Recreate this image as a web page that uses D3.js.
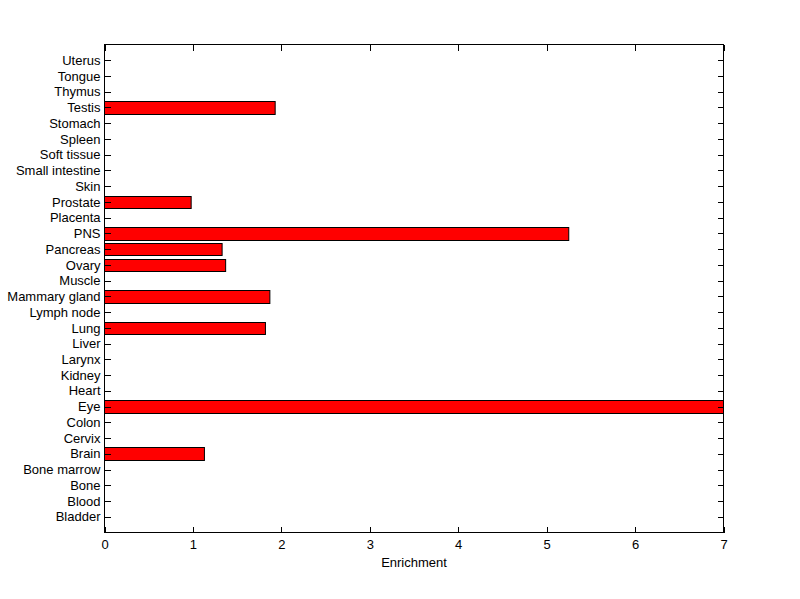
<!DOCTYPE html>
<html>
<head>
<meta charset="utf-8">
<script src="https://cdn.jsdelivr.net/npm/d3@7"></script>
<style>
  html, body { margin: 0; padding: 0; background: #fff; }
  svg { display: block; }
  text { font-family: Arial, "Liberation Sans", Helvetica, sans-serif; }
</style>
</head>
<body>
<script>
// Categories, bottom (position 1) to top (position 30)
const categories = ["Bladder","Blood","Bone","Bone marrow","Brain","Cervix","Colon","Eye","Heart","Kidney","Larynx","Liver","Lung","Lymph node","Mammary gland","Muscle","Ovary","Pancreas","PNS","Placenta","Prostate","Skin","Small intestine","Soft tissue","Spleen","Stomach","Testis","Thymus","Tongue","Uterus"];
const enrichment = [0,0,0,0,1.13,0,0,7.0,0,0,0,0,1.82,0,1.87,0,1.37,1.33,5.25,0,0.98,0,0,0,0,0,1.93,0,0,0];
const xTicks = [0,1,2,3,4,5,6,7];
const xLabel = "Enrichment";

(function () {
const W = 800, H = 599;
const mLeft = 104.5, mRight = 723.5, mTop = 44.5, mBottom = 532.5;

const svg = d3.select("body").append("svg").attr("width", W).attr("height", H);

const x = d3.scaleLinear().domain([0, 7]).range([mLeft, mRight]);
const y = d3.scaleLinear().domain([0, 31]).range([mBottom, mTop]);
const barH = 0.8;

const data = categories.map((c, i) => ({ cat: c, pos: i + 1, v: enrichment[i] }));

// bars
svg.append("g").selectAll("rect")
  .data(data.filter(d => d.v > 0))
  .join("rect")
  .attr("x", x(0))
  .attr("y", d => Math.round(y(d.pos + barH / 2)) + 0.5)
  .attr("width", d => x(d.v) - x(0))
  .attr("height", d => Math.round(y(d.pos - barH / 2)) - Math.round(y(d.pos + barH / 2)))
  .attr("fill", "#ff0000")
  .attr("stroke", "#000")
  .attr("stroke-width", 1);

const tick = 6;
const fontSize = "13px";

const yAxisL = d3.axisLeft(y)
  .tickValues(d3.range(1, 31))
  .tickFormat(d => categories[d - 1])
  .tickSizeInner(-tick).tickSizeOuter(0).tickPadding(4);
const gL = svg.append("g").attr("transform", `translate(${mLeft},0)`).call(yAxisL);

const yAxisR = d3.axisRight(y)
  .tickValues(d3.range(1, 31))
  .tickFormat("")
  .tickSizeInner(-tick).tickSizeOuter(0);
const gR = svg.append("g").attr("transform", `translate(${mRight},0)`).call(yAxisR);

const xAxisB = d3.axisBottom(x)
  .tickValues(xTicks)
  .tickFormat(d3.format("d"))
  .tickSizeInner(-tick).tickSizeOuter(0).tickPadding(7);
const gB = svg.append("g").attr("transform", `translate(0,${mBottom})`).call(xAxisB);

const xAxisT = d3.axisTop(x)
  .tickValues(xTicks)
  .tickFormat("")
  .tickSizeInner(-tick).tickSizeOuter(0);
const gT = svg.append("g").attr("transform", `translate(0,${mTop})`).call(xAxisT);

[gL, gR, gB, gT].forEach(g => {
  g.select(".domain").remove();
  g.selectAll("line").attr("stroke", "#000").attr("shape-rendering", "crispEdges");
  g.selectAll("text").attr("font-size", fontSize).attr("fill", "#000")
    .style("font-family", "Arial, 'Liberation Sans', Helvetica, sans-serif");
});

svg.append("rect")
  .attr("x", mLeft).attr("y", mTop)
  .attr("width", mRight - mLeft).attr("height", mBottom - mTop)
  .attr("fill", "none").attr("stroke", "#000").attr("stroke-width", 1)
  .attr("shape-rendering", "crispEdges");

svg.append("text")
  .attr("x", (mLeft + mRight) / 2)
  .attr("y", 567)
  .attr("text-anchor", "middle")
  .attr("font-size", fontSize)
  .attr("fill", "#000")
  .text(xLabel);
})();
</script>
</body>
</html>
